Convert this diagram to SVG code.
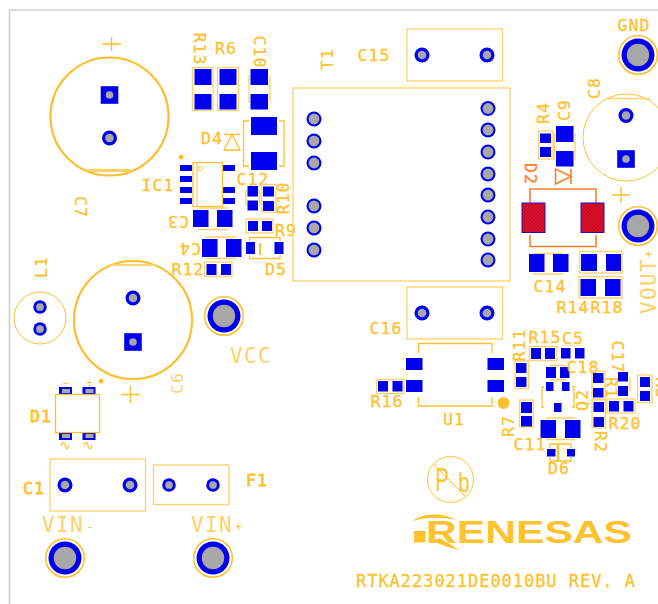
<svg xmlns="http://www.w3.org/2000/svg" width="658" height="604" viewBox="0 0 658 604">
<style>
.b{fill:#0000ee}
.h{fill:#a8a8a8}
.o{fill:none;stroke:#fdc02f;stroke-width:1.3}
.o1{fill:none;stroke:#fdd16a;stroke-width:1.3}
.t{fill:none;stroke:#fdc02f;stroke-width:1}
.k{fill:none;stroke:#fdbd2c;stroke-width:2.2}
.r{fill:none;stroke:#ff7f2f;stroke-width:1.6}
.y{fill:#fdc02f}
text{font-family:"DejaVu Sans Mono","Liberation Mono",monospace;font-size:16.5px;fill:#fdc230;stroke:#fdc230;stroke-width:.35;text-anchor:middle;letter-spacing:1px}
.bd{stroke-width:.8}
.n{font-size:21px;fill:#fdd16a;stroke:none;letter-spacing:1.4px}
.s{font-family:"Liberation Sans",Arial,sans-serif;font-size:12px;stroke:none;letter-spacing:0}
.w{font-family:"DejaVu Sans",sans-serif;font-size:14px;stroke:none;letter-spacing:0}
.lf{font-family:"Liberation Sans",Arial,sans-serif;stroke:none;letter-spacing:0}
</style>
<defs>
<g id="th"><circle r="7.500" class="b"/><circle r="4.300" class="h"/></g>
<g id="tt"><circle r="7.500" class="b"/><circle r="5.400" class="h"/></g>
<g id="ths"><rect x="-8.800" y="-8.800" width="17.600" height="17.600" class="b"/><circle r="3.800" class="h"/></g>
<g id="big"><circle r="19.300" class="o" style="stroke-width:1.6"/><circle r="16.500" class="b"/><circle r="11.200" class="h"/></g>
<pattern id="hatch" width="2.500" height="2.500" patternUnits="userSpaceOnUse" patternTransform="rotate(45)"><rect width="2.500" height="2.500" fill="#e8101c"/><rect width=".9" height="2.500" fill="#a8083c"/></pattern>
</defs>

<g id="board"><path d="M9.500 604V10H658" fill="none" stroke="#cfcfcf" stroke-width="1.600"/></g>

<g id="C7"><circle cx="109.500" cy="116.500" r="59" class="k"/><path d="M87 170.500H132" stroke="#fdd16a" stroke-width="3"/><path d="M102 44H121M111.500 37V51" class="o"/><use href="#ths" x="109.500" y="95"/><use href="#th" x="109.500" y="138"/><text transform="translate(81,207) rotate(90)" y="6">C7</text></g>
<g id="C6"><circle cx="133" cy="320" r="59" class="k"/><path d="M111 265H155" stroke="#fdd16a" stroke-width="2"/><path d="M121 394.500H140M130.500 386V403" class="o"/><use href="#ths" x="133" y="342"/><use href="#th" x="133" y="298"/><text transform="translate(177,383) rotate(-90)" y="6" style="fill:#fdd16a;stroke:none">C6</text></g>
<g id="L1"><circle cx="40" cy="318" r="26" class="t"/><use href="#th" x="40" y="307" transform="translate(4 30.700) scale(.9)"/><use href="#th" x="40" y="329" transform="translate(4 32.900) scale(.9)"/><text transform="translate(41,267) rotate(-90)" y="6">L1</text></g>
<g id="VCC"><use href="#big" x="224" y="316"/><text class="n" x="251" y="363">VCC</text></g>
<g id="GND"><use href="#big" x="638" y="55"/><text x="634" y="31">GND</text></g>
<g id="VOUT"><use href="#big" x="638" y="226"/><text class="n" transform="translate(649,286) rotate(-90)" y="7">VOUT</text><text class="s" transform="translate(649,254) rotate(-90)" y="4">+</text></g>
<g id="VINm"><use href="#big" x="65" y="558"/><text class="n" x="63" y="532">VIN</text><text class="s" x="90" y="531">-</text></g>
<g id="VINp"><use href="#big" x="213" y="558"/><text class="n" x="212" y="532">VIN</text><text class="s" x="238.500" y="531">+</text></g>

<g id="R13"><rect x="192.500" y="67.500" width="20.500" height="43" class="o1"/><rect x="194.500" y="69" width="17" height="16" class="b"/><rect x="194.500" y="94" width="17" height="15.500" class="b"/><text transform="translate(200,49) rotate(90)" y="6">R13</text></g>
<g id="R6"><rect x="217.500" y="67.500" width="21" height="43" class="o1"/><rect x="219.500" y="69" width="17" height="16" class="b"/><rect x="219.500" y="94" width="17" height="15.500" class="b"/><text x="226" y="54">R6</text></g>
<g id="C10"><path d="M249 75V103M270 75V103" class="o1"/><rect x="250.500" y="69" width="17.500" height="16" class="b"/><rect x="250.500" y="94" width="17.500" height="15.500" class="b"/><text transform="translate(260,52) rotate(90)" y="6">C10</text></g>
<g id="D4"><path d="M249 121H243.500V166H249M279 121H284V166H279" class="o"/><rect x="251" y="117" width="26" height="18" class="b"/><rect x="251" y="152" width="26" height="18" class="b"/><path d="M224 134.500H240M232 134.500L224 150H240Z" class="o"/><text x="212" y="144">D4</text></g>

<g id="IC1"><circle cx="181" cy="157" r="2.500" class="y"/>
<rect x="180" y="165" width="12" height="6" class="b"/><rect x="180" y="176" width="12" height="6" class="b"/><rect x="180" y="187" width="12" height="6" class="b"/><rect x="180" y="198" width="12" height="6" class="b"/>
<rect x="223" y="165" width="12" height="6" class="b"/><rect x="223" y="187" width="12" height="6" class="b"/><rect x="223" y="198" width="12" height="6" class="b"/>
<rect x="193" y="162.500" width="29.500" height="44" class="o"/><path d="M197 162.500V206.500" class="o1"/><circle cx="200.300" cy="168.500" r="2.200" class="t"/><text x="158" y="191">IC1</text></g>
<g id="C12"><path d="M246 190V206M259.500 190V206" class="o1"/><rect x="247.500" y="186" width="10.500" height="10.500" class="b"/><rect x="247.500" y="200.500" width="10.500" height="10" class="b"/><text x="253" y="185">C12</text></g>
<g id="R10"><rect x="261.500" y="184.500" width="14.500" height="27.500" class="o1"/><rect x="263" y="186.500" width="11" height="10" class="b"/><rect x="263" y="201" width="11" height="10" class="b"/><text transform="translate(283,198) rotate(-90)" y="6">R10</text></g>
<g id="C3"><path d="M199 208H228M199 229.500H228" class="o1"/><rect x="193" y="210" width="15.500" height="17" class="b"/><rect x="217" y="210" width="15.500" height="17" class="b"/><text transform="translate(178,222) rotate(180)" y="6">C3</text></g>
<g id="C4"><path d="M207 237H236M207 258.500H236" class="o1"/><rect x="202" y="239" width="15.500" height="18" class="b"/><rect x="226" y="239" width="15.500" height="18" class="b"/><text transform="translate(190,249) rotate(180)" y="6">C4</text></g>
<g id="R12"><rect x="204.500" y="262" width="27.500" height="14.500" class="o1"/><rect x="206.500" y="264" width="10" height="11" class="b"/><rect x="221" y="264" width="10" height="11" class="b"/><text x="188" y="275">R12</text></g>
<g id="R9"><rect x="246" y="219" width="27" height="14" class="o1"/><rect x="248" y="221" width="10" height="10" class="b"/><rect x="262" y="221" width="10" height="10" class="b"/><text x="286" y="236">R9</text></g>
<g id="D5"><path d="M249.500 241V237.500H280V241M249.500 255V258.500H280V255" class="o"/><path d="M260 243V255" stroke="#fdc02f" stroke-width="2"/><rect x="246" y="242" width="9" height="12" class="b"/><rect x="274.500" y="242" width="9" height="12" class="b"/><text x="276" y="275">D5</text></g>

<g id="T1"><rect x="293" y="88" width="217" height="193" class="o1"/>
<use href="#tt" x="314" y="119"/><use href="#tt" x="314" y="141"/><use href="#tt" x="314" y="163"/><use href="#tt" x="314" y="206"/><use href="#tt" x="314" y="228"/><use href="#tt" x="314" y="250"/>
<use href="#tt" x="488" y="108.500"/><use href="#tt" x="488" y="130"/><use href="#tt" x="488" y="152"/><use href="#tt" x="488" y="174"/><use href="#tt" x="488" y="195"/><use href="#tt" x="488" y="217"/><use href="#tt" x="488" y="239"/><use href="#tt" x="488" y="260"/>
<text transform="translate(327,59) rotate(-90)" y="6">T1</text></g>
<g id="C15"><rect x="407" y="29" width="95.500" height="52" class="o1"/><use href="#th" x="422" y="55"/><use href="#th" x="487" y="55"/><text x="374" y="61">C15</text></g>
<g id="C16"><rect x="407" y="287" width="95.500" height="52" class="o1"/><use href="#th" x="422" y="313"/><use href="#th" x="487" y="313"/><text x="386" y="334">C16</text></g>

<g id="C8"><circle cx="626.500" cy="137.500" r="43.500" class="t"/><path d="M606 98.500H650" class="o1"/><use href="#th" x="626" y="115.500"/><use href="#ths" x="626" y="159"/><path d="M612 195H630M621 187V203" class="o"/><text transform="translate(594,88) rotate(-90)" y="6">C8</text></g>
<g id="R4"><rect x="538.500" y="131" width="14.500" height="28" class="o1"/><rect x="540" y="133.500" width="11" height="9.500" class="b"/><rect x="540" y="147" width="11" height="10" class="b"/><text transform="translate(543,113) rotate(-90)" y="6">R4</text></g>
<g id="C9"><path d="M554.500 133V160M575 133V160" class="o1"/><rect x="556" y="126" width="17.500" height="16" class="b"/><rect x="556" y="151" width="17.500" height="15.500" class="b"/><text transform="translate(564,110) rotate(-90)" y="6">C9</text></g>
<g id="D2"><path d="M555.500 169V184L571 176.500ZM571 169V184" class="r"/><path d="M530 203V189H596V203M530 235V246.500H596V235" class="r"/>
<rect x="522" y="203" width="23" height="29.500" fill="url(#hatch)" stroke="#1a10c0"/><rect x="581" y="203" width="23" height="29.500" fill="url(#hatch)" stroke="#1a10c0"/>
<text transform="translate(531,174) rotate(90)" y="6" style="fill:#ff7f2f;stroke:#ff7f2f">D2</text></g>
<g id="C14"><path d="M533 253.500H563M533 274H563" class="o1"/><rect x="529" y="254" width="15.500" height="18" class="b"/><rect x="553" y="254" width="15.500" height="18" class="b"/><text x="550" y="292">C14</text></g>
<g id="R14"><rect x="579.500" y="251.500" width="42.500" height="21.500" class="o1"/><rect x="581" y="254" width="16" height="17" class="b"/><rect x="606" y="254" width="15" height="17" class="b"/><text x="573" y="313">R14</text></g>
<g id="R18"><rect x="579" y="276.500" width="43" height="21.500" class="o1"/><rect x="580.500" y="279" width="15.500" height="17" class="b"/><rect x="605" y="279" width="15.500" height="17" class="b"/><text x="607" y="313">R18</text></g>

<g id="U1"><path d="M418.500 353V343.500H492V353M418.500 397V406H492V397" class="o"/><rect x="406" y="358" width="16.500" height="12" class="b"/><rect x="406" y="380" width="16.500" height="12" class="b"/><rect x="487.500" y="358" width="16.500" height="12" class="b"/><rect x="487.500" y="380" width="16.500" height="12" class="b"/><circle cx="503.500" cy="403" r="6" class="y"/><text x="454" y="425">U1</text></g>
<g id="R16"><rect x="376.500" y="379.500" width="27.500" height="14" class="o1"/><rect x="378" y="381" width="10" height="10.500" class="b"/><rect x="392.500" y="381" width="10" height="10.500" class="b"/><text x="387" y="407">R16</text></g>
<g id="R15"><rect x="529.500" y="346.500" width="27.500" height="14" class="o1"/><rect x="531" y="348" width="10" height="11" class="b"/><rect x="545" y="348" width="10" height="11" class="b"/><text x="545" y="343">R15</text></g>
<g id="C5"><path d="M563 345.500H583M563 361H583" class="o1" style="stroke-width:.6"/><rect x="561" y="348" width="9.500" height="10.500" class="b"/><rect x="575" y="348" width="9.500" height="10.500" class="b"/><text x="573" y="344">C5</text></g>
<g id="R11"><rect x="515" y="361" width="13.500" height="27.500" class="o1"/><rect x="516" y="363" width="10.500" height="10" class="b"/><rect x="516" y="377" width="10.500" height="10" class="b"/><text transform="translate(519,345) rotate(-90)" y="6">R11</text></g>
<g id="C18"><path d="M550 365.500H566M550 380H566" class="o1"/><rect x="546" y="367" width="10" height="11" class="b"/><rect x="560" y="367" width="9.500" height="11" class="b"/><text x="583" y="373">C18</text></g>
<g id="Q2"><path d="M544 387H542V407H544M572 387H574V407H572" class="o"/><rect x="546" y="382" width="7.500" height="9" class="b"/><rect x="562" y="382" width="7.500" height="9" class="b"/><rect x="554" y="403" width="7.500" height="9" class="b"/><text transform="translate(582,400) rotate(-90)" y="6">Q2</text></g>
<g id="R7"><rect x="519.500" y="400" width="14" height="27" class="o1"/><rect x="521" y="402" width="11" height="11" class="b"/><rect x="521" y="416" width="11" height="10.500" class="b"/><text transform="translate(508,426) rotate(-90)" y="6">R7</text></g>
<g id="C11"><path d="M546 418H575M546 439.500H575" class="o1"/><rect x="540.500" y="420" width="15.500" height="18" class="b"/><rect x="565" y="420" width="15.500" height="18" class="b"/><text x="530" y="450">C11</text></g>
<g id="D6"><path d="M550 448V444H571V448M550 457V461H571V457" class="o"/><path d="M558 444V461" stroke="#fdc02f" stroke-width="2.500"/><rect x="547" y="449" width="8.500" height="7.500" class="b"/><rect x="567" y="449" width="8" height="7.500" class="b"/><text x="559" y="474">D6</text></g>
<g id="R1"><rect x="592" y="371" width="13" height="28" class="o1"/><rect x="593" y="373" width="10.500" height="10" class="b"/><rect x="593" y="388" width="10.500" height="9.500" class="b"/><text transform="translate(612,388) rotate(90)" y="6">R1</text></g>
<g id="R2"><rect x="592" y="400" width="13.500" height="28" class="o1"/><rect x="593.500" y="402" width="10.500" height="10" class="b"/><rect x="593.500" y="417" width="10.500" height="10" class="b"/><text transform="translate(601,442) rotate(90)" y="6">R2</text></g>
<g id="C17"><path d="M616 377V392M630 377V392" class="o1"/><rect x="618" y="372" width="10" height="9.500" class="b"/><rect x="618" y="386" width="10" height="10" class="b"/><text transform="translate(618,357) rotate(90)" y="6">C17</text></g>
<g id="R20"><rect x="607" y="399" width="28" height="14" class="o1"/><rect x="609" y="401" width="10" height="10.500" class="b"/><rect x="623.500" y="401" width="10" height="10.500" class="b"/><text x="625" y="429">R20</text></g>
<g id="R3"><rect x="637.500" y="375" width="14.500" height="27.500" class="o1"/><rect x="640" y="377" width="10" height="10" class="b"/><rect x="640" y="391" width="10" height="10" class="b"/><text transform="translate(662,388) rotate(90)" y="6">R3</text></g>

<g id="D1"><circle cx="101" cy="381" r="2.500" class="y"/>
<g class="b"><rect x="59" y="387" width="13" height="7"/><rect x="82.500" y="387" width="13" height="7"/><rect x="59" y="433" width="13" height="7"/><rect x="82.500" y="433" width="13" height="7"/></g>
<g class="h"><rect x="62" y="389" width="8" height="4"/><rect x="85.500" y="389" width="8" height="4"/><rect x="62" y="434" width="8" height="4"/><rect x="85.500" y="434" width="8" height="4"/></g>
<rect x="55.500" y="394.500" width="44" height="38" class="o"/>
<text class="s" x="66" y="387">−</text><text class="s" x="89.500" y="387">+</text><text class="w" x="65" y="450">∿</text><text class="w" x="88" y="450">∿</text>
<text class="bd" x="41" y="422">D1</text></g>
<g id="C1"><rect x="50" y="459" width="95.500" height="52" class="o1"/><use href="#th" x="65" y="485"/><use href="#th" x="130" y="485"/><text class="bd" x="34" y="494">C1</text></g>
<g id="F1"><rect x="153.500" y="465" width="75.500" height="39.500" class="o1"/><use href="#th" x="169" y="485" transform="translate(16.900 48.500) scale(.9)"/><use href="#th" x="213" y="485" transform="translate(21.300 48.500) scale(.9)"/><text class="bd" x="257" y="486">F1</text></g>

<g id="PbFree"><circle cx="450.500" cy="479.500" r="23" class="t"/><path d="M433 464L466 497" class="t"/><text class="lf" transform="translate(442,491) scale(.62,1)" style="font-size:33px">P</text><text class="lf" transform="translate(464,492) scale(.75,1)" style="font-size:27px">b</text></g>
<g id="logo"><rect x="414" y="531" width="11.500" height="11.500" class="y"/><path d="M412 521C425 512 445 513 456 520C442 517 428 517 412 521Z" class="y"/><path d="M440 538L459 550C450 548 442 545 432 541Z" class="y"/><text class="lf" x="529" y="542.500" textLength="206" lengthAdjust="spacingAndGlyphs" style="font-size:30.500px;font-weight:700">RENESAS</text></g>
<g id="title"><text x="495.500" y="587" textLength="279" style="font-size:17px;letter-spacing:0">RTKA223021DE0010BU REV. A</text></g>
</svg>
